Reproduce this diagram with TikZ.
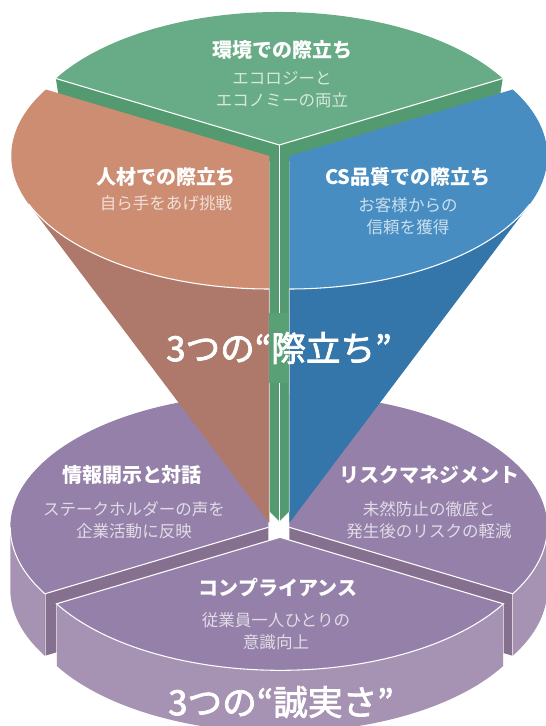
\documentclass[tikz,border=0pt]{standalone}
\usepackage{fontspec}
\setmainfont{Noto Sans CJK JP}
\newfontfamily\jpbig[FakeBold=2.2]{Noto Sans CJK JP}
\usetikzlibrary{calc}
\definecolor{gTop}{RGB}{104,171,135}
\definecolor{gBand}{RGB}{84,154,113}
\definecolor{gBlock}{RGB}{90,160,118}
\definecolor{oTop}{RGB}{204,141,114}
\definecolor{oSide}{RGB}{174,121,106}
\definecolor{bTop}{RGB}{71,141,193}
\definecolor{bSide}{RGB}{52,118,170}
\definecolor{pTop}{RGB}{148,128,168}
\definecolor{pSide}{RGB}{166,146,178}
\definecolor{pCut}{RGB}{133,112,143}
\def\HH{62}
\tikzset{
  wl/.style={draw=white,line width=0.8pt},
  wlthin/.style={draw=white,line width=0.5pt,opacity=0.6},
  ttl/.style={text=white,font=\bfseries\fontsize{15}{18}\selectfont,inner sep=0pt},
  sub/.style={font=\fontsize{12.4}{16.5}\selectfont,align=center,inner sep=0pt},
  big/.style={text=white,font=\jpbig\fontsize{26}{30}\selectfont,inner sep=0pt},
  el/.style={x radius=258,y radius=133}
}
\begin{document}
\begin{tikzpicture}[x=0.75pt,y=0.75pt]
\useasboundingbox (0,0) rectangle (546,726);
\begin{scope}
\clip (0,0) rectangle (546,726);
% centres
\coordinate (G) at (279.3,581);
\coordinate (O) at (269.3,570);
\coordinate (B) at (289.3,570);
\coordinate (OA) at (269.3,203);
\coordinate (BA) at (289.3,203);
\coordinate (L) at (268.3,198.7);
\coordinate (R) at (289.3,198.7);
\coordinate (F) at (280,188.7);
% ---------- disk: left sector
\fill[pSide] ($(L)+(180:258 and 133)$) arc[start angle=180,end angle=210,el] -- ++(0,-\HH) arc[start angle=210,end angle=180,el] -- cycle;
\fill[pCut] (L) -- ++(210:258 and 133) -- ++(0,-\HH) -- ($(L)+(0,-\HH)$) -- cycle;
\fill[pTop] (L) -- ++(90:258 and 133) arc[start angle=90,end angle=210,el] -- cycle;
\draw[wl] ($(L)+(180:258 and 133)$) arc[start angle=180,end angle=210,el] -- (L);
\draw[wlthin] ($(L)+(210:258 and 133)$) -- ++(0,-\HH);
% right sector
\fill[pSide] ($(R)+(-30:258 and 133)$) arc[start angle=-30,end angle=0,el] -- ++(0,-\HH) arc[start angle=0,end angle=-30,el] -- cycle;
\fill[pCut] (R) -- ++(-30:258 and 133) -- ++(0,-\HH) -- ($(R)+(0,-\HH)$) -- cycle;
\fill[pTop] (R) -- ++(-30:258 and 133) arc[start angle=-30,end angle=90,el] -- cycle;
\draw[wl] (R) -- ++(-30:258 and 133) arc[start angle=-30,end angle=0,el];
\draw[wlthin] ($(R)+(-30:258 and 133)$) -- ++(0,-\HH);
% front sector
\fill[pSide] ($(F)+(210:258 and 133)$) arc[start angle=210,end angle=330,el] -- ++(0,-\HH) arc[start angle=330,end angle=210,el] -- cycle;
\fill[pTop] (F) -- ++(210:258 and 133) arc[start angle=210,end angle=330,el] -- cycle;
\draw[wl] (F) -- ++(210:258 and 133) arc[start angle=210,end angle=330,el] -- (F);
\draw[wlthin] ($(F)+(210:258 and 133)$) -- ++(0,-\HH);
\draw[wlthin] ($(F)+(330:258 and 133)$) -- ++(0,-\HH);
% ---------- funnel
\fill[gBand] ($(G)+(150:258 and 133)$) -- (G) -- ($(G)+(30:258 and 133)$) -- (500,630) -- (289.3,565) -- (289.3,214.3) -- (279.3,204.3) -- (269.3,214.3) -- (269.3,565) -- (58.5,630) -- cycle;
\fill[oSide] (OA) -- ($(O)+(201.25:258 and 133)$) arc[start angle=201.25,end angle=270,el] -- cycle;
\fill[bSide] (BA) -- ($(B)+(338.75:258 and 133)$) arc[start angle=338.75,end angle=270,el] -- cycle;
\fill[oTop] (O) -- ++(150:258 and 133) arc[start angle=150,end angle=270,el] -- cycle;
\fill[bTop] (B) -- ++(30:258 and 133) arc[start angle=30,end angle=-90,el] -- cycle;
\fill[gTop] (G) -- ++(30:258 and 133) arc[start angle=30,end angle=150,el] -- cycle;
\draw[wl] ($(G)+(150:258 and 133)$) -- (G) -- ($(G)+(30:258 and 133)$);
\draw[wl] (G) -- (279.3,204.3);
\draw[wlthin] (269.3,437) -- (269.3,214.3) -- (279.3,204.3) -- (289.3,214.3) -- (289.3,437);
\draw[wl] ($(O)+(201.25:258 and 133)$) arc[start angle=201.25,end angle=270,el];
\draw[wl] ($(B)+(338.75:258 and 133)$) arc[start angle=338.75,end angle=270,el];
\fill[gBlock] (269.3,343) rectangle (289.3,413);
\end{scope}
% ---------- texts
\node[ttl] (t1) at (282,676) {環境での際立ち};
\node[sub,text=white!72!gTop] (s1) at (282,636) {エコロジーと\\エコノミーの両立};
\node[ttl] (t2) at (166,549) {人材での際立ち};
\node[sub,text=white!72!oTop] (s2) at (166,523) {自ら手をあげ挑戦};
\node[ttl] (t3) at (408,549) {CS品質での際立ち};
\node[sub,text=white!72!bTop] (s3) at (408,510) {お客様からの\\信頼を獲得};
\node[big] (b1) at (279,378) {3つの“際立ち”};
\node[ttl] (t4) at (132,251) {情報開示と対話};
\node[sub,text=white!72!pTop] (s4) at (134,206) {ステークホルダーの声を\\企業活動に反映};
\node[ttl] (t5) at (429,251) {リスクマネジメント};
\node[sub,text=white!72!pTop] (s5) at (429,206) {未然防止の徹底と\\発生後のリスクの軽減};
\node[ttl] (t6) at (278,138) {コンプライアンス};
\node[sub,text=white!72!pTop] (s6) at (276,94.5) {従業員一人ひとりの\\意識向上};
\node[big] (b2) at (281,24) {3つの“誠実さ”};
\end{tikzpicture}
\end{document}
